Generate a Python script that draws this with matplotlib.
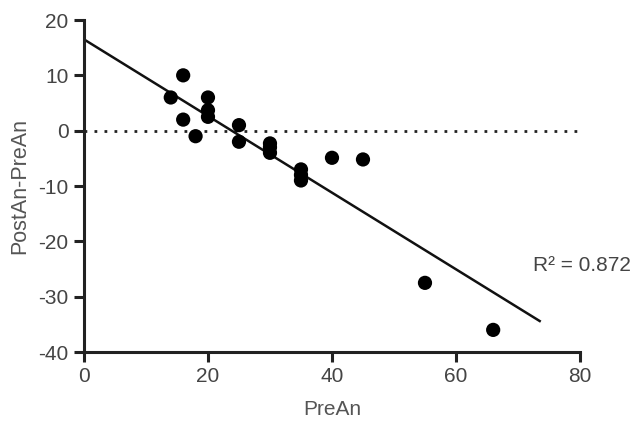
import numpy as np
import matplotlib
matplotlib.use("Agg")
import matplotlib.pyplot as plt

plt.rcParams['font.family'] = ['Liberation Sans', 'DejaVu Sans']
plt.rcParams['axes.unicode_minus'] = False

pre_an = [14, 16, 16, 18, 20, 20, 20, 25, 25, 30, 30, 30, 35, 35, 35, 40, 45, 55, 66]
diff = [6, 10, 2, -1, 6, 3.7, 2.5, 1, -2, -2.3, -3, -4, -7, -8, -9, -4.9, -5.2, -27.5, -36]
# regression line as shown in the figure
fit_intercept = 16.5
fit_slope = -0.6925
fit_x_range = [0, 73.5]
r2_text = "R\u00b2 = 0.872"
x_ticks = [0, 20, 40, 60, 80]
y_ticks = [-40, -30, -20, -10, 0, 10, 20]

fig = plt.figure(figsize=(6.43, 4.23), dpi=100)
ax = fig.add_axes([0.1306, 0.1678, 0.7714, 0.7849])

ax.axhline(0, color='#222222', linestyle=(0, (1, 2.6)), linewidth=2)
xs = np.array(fit_x_range)
ax.plot(xs, fit_slope * xs + fit_intercept, color='#111111', linewidth=1.8)
ax.scatter(pre_an, diff, s=105, color='black', zorder=3, edgecolors='none')

ax.set_xlim(0, 80)
ax.set_ylim(-40, 20)
ax.set_xticks(x_ticks)
ax.set_yticks(y_ticks)
for s in ['top', 'right']:
    ax.spines[s].set_visible(False)
for s in ['left', 'bottom']:
    ax.spines[s].set_linewidth(2.2)
    ax.spines[s].set_color('#222222')
ax.tick_params(direction='out', length=7, width=2.2, color='#222222',
               labelsize=15, labelcolor='#444444', pad=4)
ax.set_xlabel('PreAn', fontsize=15, color='#555555', labelpad=10)
ax.set_ylabel('PostAn-PreAn', fontsize=15.5, color='#555555', labelpad=6)
ax.text(72.5, -24.3, r2_text, fontsize=15, color='#444444', ha='left', va='center',
        clip_on=False)

fig.savefig('out.png', dpi=100)
